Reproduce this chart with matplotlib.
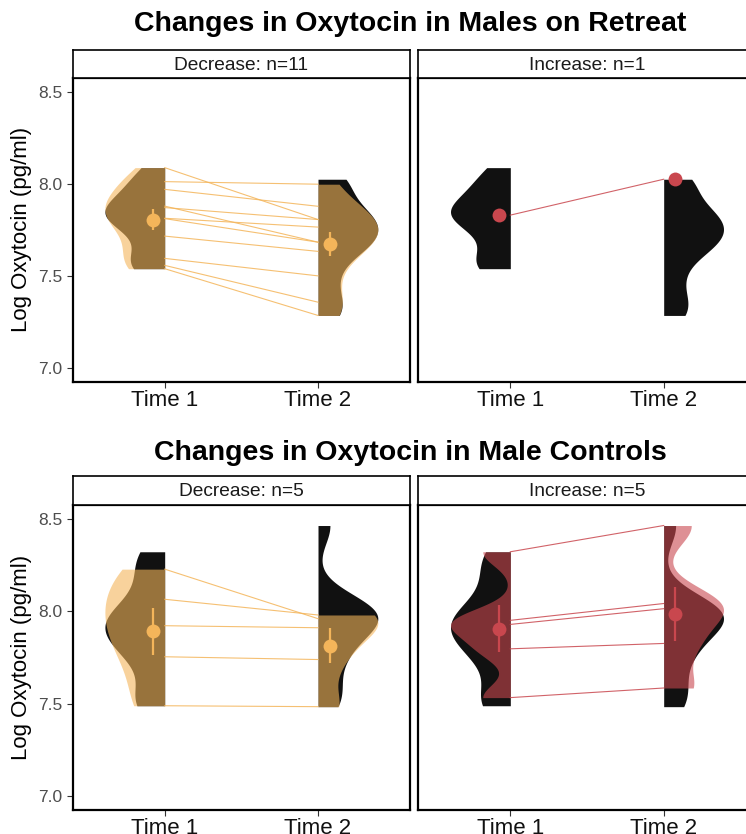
import matplotlib
matplotlib.use("Agg")
import matplotlib.pyplot as plt
import numpy as np

plt.rcParams['font.family'] = ['Liberation Sans', 'DejaVu Sans']

times = ["Time 1", "Time 2"]

retreat_dec_t1 = [8.088, 8.012, 7.970, 7.879, 7.871, 7.813, 7.811, 7.716, 7.595, 7.557, 7.539]
retreat_dec_t2 = [7.806, 7.998, 7.878, 7.683, 7.806, 7.765, 7.683, 7.633, 7.500, 7.357, 7.285]
retreat_inc_t1 = [7.830]
retreat_inc_t2 = [8.025]

control_dec_t1 = [8.228, 8.065, 7.922, 7.754, 7.489]
control_dec_t2 = [7.960, 7.980, 7.911, 7.739, 7.484]
control_inc_t1 = [8.322, 7.951, 7.929, 7.797, 7.533]
control_inc_t2 = [8.464, 8.042, 8.014, 7.826, 7.585]

titles = ["Changes in Oxytocin in Males on Retreat", "Changes in Oxytocin in Male Controls"]
ylabel = "Log Oxytocin (pg/ml)"
yticks = [7.0, 7.5, 8.0, 8.5]

orange = "#F4B55A"
red = "#C9474E"

W, H = 746, 834
fig = plt.figure(figsize=(W / 100, H / 100), dpi=100)


def px_axes(left, top, right, bottom):
    return fig.add_axes([left / W, 1 - bottom / H, (right - left) / W, (bottom - top) / H])


def half_violin(ax, vals, pos, side, color, alpha):
    x = np.asarray(vals, dtype=float)
    if len(x) < 2:
        return
    sd = x.std(ddof=1)
    q75, q25 = np.percentile(x, [75, 25])
    lo = min(sd, (q75 - q25) / 1.34)
    if lo <= 0:
        lo = sd
    bw = 0.9 * lo * len(x) ** -0.2
    grid = np.linspace(x.min(), x.max(), 512)
    dens = np.exp(-0.5 * ((grid[:, None] - x[None, :]) / bw) ** 2).sum(axis=1)
    w = dens / dens.max() * 0.39
    ax.fill_betweenx(grid, pos, pos + side * w, color=color, alpha=alpha, lw=0)


def mean_point(ax, vals, pos, color):
    x = np.asarray(vals, dtype=float)
    m = x.mean()
    if len(x) > 1:
        se = x.std(ddof=1) / np.sqrt(len(x))
        ax.plot([pos, pos], [m - se, m + se], color=color, lw=1.6, solid_capstyle='butt', zorder=5)
    ax.plot(pos, m, 'o', color=color, ms=10, mew=0, zorder=6)


def panel(ax, all_t1, all_t2, t1, t2, color, show_y):
    half_violin(ax, all_t1, 1, -1, "#111111", 1.0)
    half_violin(ax, all_t2, 2, 1, "#111111", 1.0)
    half_violin(ax, t1, 1, -1, color, 0.6)
    half_violin(ax, t2, 2, 1, color, 0.6)
    for a, b in zip(t1, t2):
        ax.plot([1, 2], [a, b], color=color, lw=0.8, alpha=0.85, zorder=3)
    mean_point(ax, t1, 1 - 0.075, color)
    mean_point(ax, t2, 2 + 0.075, color)
    ax.set_xlim(0.4, 2.6)
    ax.set_ylim(6.925, 8.575)
    ax.set_xticks([1, 2])
    ax.set_xticklabels(times, fontsize=16, color="#111111")
    ax.set_yticks(yticks)
    if show_y:
        ax.set_yticklabels(["%.1f" % v for v in yticks], fontsize=12.5, color="#4D4D4D")
        ax.tick_params(axis='y', length=4, width=0.8, color="#333333")
    else:
        ax.tick_params(axis='y', left=False, labelleft=False)
    ax.tick_params(axis='x', length=4, width=0.8, color="#333333", pad=2)
    for s in ax.spines.values():
        s.set_linewidth(1.6)
        s.set_color("black")


def strip(left, top, right, bottom, text):
    ax = px_axes(left, top, right, bottom)
    ax.set_xticks([])
    ax.set_yticks([])
    for s in ax.spines.values():
        s.set_linewidth(1.2)
    ax.text(0.5, 0.45, text, transform=ax.transAxes, ha='center', va='center',
            fontsize=13.8, color="#1A1A1A")


rows = [
    (78, 381.7, 49.5, 24, retreat_dec_t1, retreat_dec_t2, retreat_inc_t1, retreat_inc_t2),
    (505, 810, 476, 453, control_dec_t1, control_dec_t2, control_inc_t1, control_inc_t2),
]

for i, (top, bottom, stop, ty, d1, d2, i1, i2) in enumerate(rows):
    all_t1 = d1 + i1
    all_t2 = d2 + i2
    ax1 = px_axes(72.7, top, 410, bottom)
    panel(ax1, all_t1, all_t2, d1, d2, orange, True)
    ax2 = px_axes(418.3, top, 755.7, bottom)
    panel(ax2, all_t1, all_t2, i1, i2, red, False)
    strip(72.7, stop, 410, top, "Decrease: n=%d" % len(d1))
    strip(418.3, stop, 755.7, top, "Increase: n=%d" % len(i1))
    fig.text(410 / W, 1 - ty / H, titles[i], ha='center', va='center',
             fontsize=20.5, fontweight='bold')
    fig.text(22 / W, 1 - (top + bottom) / 2 / H, ylabel, rotation=90,
             ha='center', va='center', fontsize=16)

fig.savefig("out.png", dpi=100)
